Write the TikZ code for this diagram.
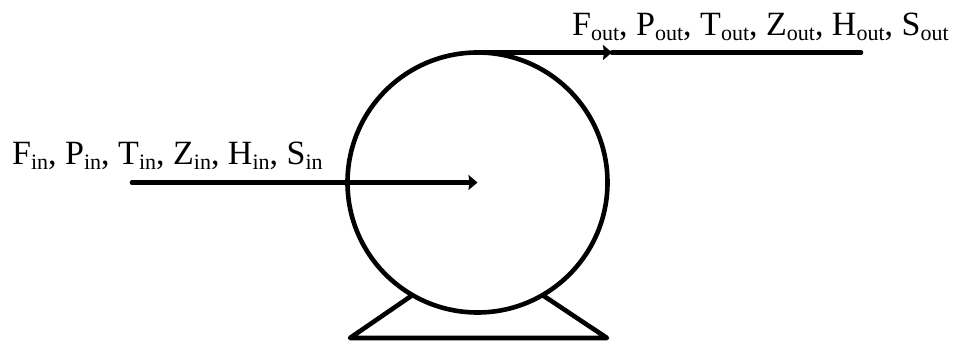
\documentclass[tikz,border=0pt]{standalone}
\usepackage{xcolor}
\usepackage{fontspec}
\setmainfont{Liberation Serif}
\usetikzlibrary{
  arrows.meta,
  positioning
}
\tikzset{
  stream/.style={line width=4.6pt, line cap=round},
  streamtip/.style={-{Stealth[length=9pt, width=15pt, inset=1pt]}},
  streamlabel/.style={font=\fontsize{34}{40}\selectfont, anchor=base west, inner sep=0pt},
  pumpbody/.style={circle, draw, line width=4.6pt, minimum size=260pt, inner sep=0pt, outer sep=0pt}
}
\newcommand{\strsub}[1]{\raisebox{-5pt}{\fontsize{22}{22}\selectfont #1}}
\begin{document}
\begin{tikzpicture}[x=1pt, y=1pt]
  \useasboundingbox (0,0) rectangle (954,342);
  % pump casing
  \node[pumpbody] (pump) at (477.5,159.5) {};
  % stand
  \coordinate (standL) at (350,4);
  \coordinate (standR) at (607,4);
  \draw[line width=4.6pt, line join=round] (pump.-120) -- (standL) -- (standR) -- (pump.-60);
  % streams
  \coordinate (inStart) at (132,159.5);
  \path (pump.north) ++(134.5,0) coordinate (outMid) ++(249,0) coordinate (outEnd);
  \draw[stream, streamtip] (inStart) -- (pump.center);
  \draw[stream, streamtip] (pump.north) -- (outMid);
  \draw[stream] (outMid) -- (outEnd);
  % labels
  \node[streamlabel] (inLabel) at (12,177) {F\strsub{in}, P\strsub{in}, T\strsub{in}, Z\strsub{in}, H\strsub{in}, S\strsub{in}};
  \node[streamlabel] (outLabel) at (572,306) {F\strsub{out}, P\strsub{out}, T\strsub{out}, Z\strsub{out}, H\strsub{out}, S\strsub{out}};
\end{tikzpicture}
\end{document}
